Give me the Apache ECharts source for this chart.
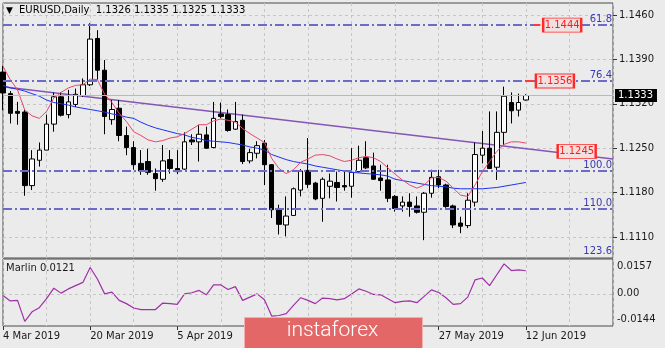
<!DOCTYPE html>
<html><head><meta charset="utf-8">
<script src="https://cdn.jsdelivr.net/npm/echarts@6/dist/echarts.min.js"></script>
<style>html,body{margin:0;padding:0;background:#ebebeb;}#c{width:665px;height:348px;}</style>
</head><body><div id="c"></div>
<script>
// ---- data ----
const dates = [
 '4 Mar 2019','5 Mar 2019','6 Mar 2019','7 Mar 2019','8 Mar 2019','11 Mar 2019','12 Mar 2019','13 Mar 2019','14 Mar 2019','15 Mar 2019',
 '18 Mar 2019','19 Mar 2019','20 Mar 2019','21 Mar 2019','22 Mar 2019','25 Mar 2019','26 Mar 2019','27 Mar 2019','28 Mar 2019','29 Mar 2019',
 '1 Apr 2019','2 Apr 2019','3 Apr 2019','4 Apr 2019','5 Apr 2019','8 Apr 2019','9 Apr 2019','10 Apr 2019','11 Apr 2019','12 Apr 2019',
 '15 Apr 2019','16 Apr 2019','17 Apr 2019','18 Apr 2019','19 Apr 2019','22 Apr 2019','23 Apr 2019','24 Apr 2019','25 Apr 2019','26 Apr 2019',
 '29 Apr 2019','30 Apr 2019','1 May 2019','2 May 2019','3 May 2019','6 May 2019','7 May 2019','8 May 2019','9 May 2019','10 May 2019',
 '13 May 2019','14 May 2019','15 May 2019','16 May 2019','17 May 2019','20 May 2019','21 May 2019','22 May 2019','23 May 2019','24 May 2019',
 '27 May 2019','28 May 2019','29 May 2019','30 May 2019','31 May 2019','3 Jun 2019','4 Jun 2019','5 Jun 2019','6 Jun 2019','7 Jun 2019',
 '10 Jun 2019','11 Jun 2019','12 Jun 2019',
 '13 Jun 2019','14 Jun 2019','17 Jun 2019','18 Jun 2019','19 Jun 2019','20 Jun 2019','21 Jun 2019','24 Jun 2019','25 Jun 2019','26 Jun 2019',
 '27 Jun 2019','28 Jun 2019'
];
const opens = [1.1370,1.1336,1.1308,1.1307,1.1191,1.1231,1.1247,1.1288,1.1331,1.1303,
 1.1319,1.1333,1.1350,1.1423,1.1373,1.1295,1.1313,1.1270,1.1251,1.1226,
 1.1229,1.1210,1.1201,1.1232,1.1218,1.1217,1.1263,1.1260,1.1271,1.1251,
 1.1304,1.1303,1.1280,1.1294,1.1230,1.1242,1.1258,1.1224,1.1153,1.1129,
 1.1144,1.1184,1.1215,1.1195,1.1171,1.1190,1.1196,1.1191,1.1190,1.1213,
 1.1235,1.1222,1.1203,1.1200,1.1174,1.1159,1.1165,1.1159,1.1149,1.1179,
 1.1205,1.1192,1.1159,1.1132,1.1128,1.1165,1.1239,1.1250,1.1220,1.1275,
 1.1322,1.1310,1.1326];
const highs = [1.1380,1.1340,1.1323,1.1310,1.1247,1.1259,1.1303,1.1338,1.1338,1.1342,
 1.1344,1.1360,1.1447,1.1436,1.1389,1.1326,1.1326,1.1284,1.1261,1.1247,
 1.1249,1.1218,1.1255,1.1247,1.1247,1.1275,1.1272,1.1287,1.1284,1.1323,
 1.1322,1.1311,1.1323,1.1303,1.1249,1.1261,1.1263,1.1225,1.1161,1.1174,
 1.1188,1.1217,1.1266,1.1197,1.1204,1.1210,1.1213,1.1213,1.1250,1.1254,
 1.1261,1.1243,1.1224,1.1224,1.1176,1.1174,1.1179,1.1174,1.1181,1.1216,
 1.1216,1.1194,1.1161,1.1142,1.1179,1.1259,1.1277,1.1308,1.1308,1.1347,
 1.1338,1.1336,1.1335];
const lows = [1.1310,1.1289,1.1287,1.1175,1.1184,1.1221,1.1247,1.1276,1.1300,1.1297,
 1.1315,1.1331,1.1348,1.1358,1.1272,1.1287,1.1261,1.1239,1.1216,1.1208,
 1.1208,1.1183,1.1197,1.1210,1.1209,1.1216,1.1255,1.1229,1.1249,1.1250,
 1.1297,1.1276,1.1279,1.1225,1.1226,1.1234,1.1192,1.1140,1.1114,1.1111,
 1.1144,1.1174,1.1187,1.1168,1.1134,1.1171,1.1166,1.1183,1.1172,1.1212,
 1.1217,1.1200,1.1183,1.1165,1.1150,1.1150,1.1142,1.1147,1.1105,1.1172,
 1.1187,1.1156,1.1124,1.1116,1.1124,1.1158,1.1226,1.1218,1.1200,1.1255,
 1.1289,1.1300,1.1325];
const closes = [1.1337,1.1305,1.1305,1.1191,1.1233,1.1247,1.1288,1.1331,1.1302,1.1323,
 1.1335,1.1350,1.1422,1.1373,1.1300,1.1311,1.1270,1.1251,1.1224,1.1214,
 1.1212,1.1202,1.1230,1.1218,1.1213,1.1260,1.1260,1.1272,1.1250,1.1297,
 1.1300,1.1278,1.1292,1.1229,1.1243,1.1254,1.1224,1.1153,1.1130,1.1143,
 1.1186,1.1214,1.1193,1.1170,1.1201,1.1198,1.1188,1.1189,1.1212,1.1231,
 1.1219,1.1201,1.1199,1.1171,1.1155,1.1165,1.1158,1.1149,1.1179,1.1204,
 1.1192,1.1158,1.1129,1.1127,1.1168,1.1240,1.1250,1.1218,1.1275,1.1332,
 1.1309,1.1322,1.1333];
const maFast = [1.1379,1.1358,1.1342,1.1310,1.1301,1.1297,1.1308,1.1329,1.1338,1.1345,
 1.1349,1.1350,1.1359,1.1358,1.1335,1.1322,1.1305,1.1292,1.1276,1.1270,
 1.1263,1.1260,1.1262,1.1266,1.1268,1.1273,1.1280,1.1287,1.1287,1.1293,
 1.1296,1.1294,1.1291,1.1281,1.1273,1.1266,1.1259,1.1234,1.1218,1.1210,
 1.1216,1.1228,1.1233,1.1239,1.1240,1.1238,1.1233,1.1229,1.1231,1.1235,
 1.1237,1.1235,1.1229,1.1219,1.1209,1.1200,1.1192,1.1187,1.1192,1.1203,
 1.1204,1.1198,1.1187,1.1176,1.1174,1.1192,1.1213,1.1229,1.1245,1.1256,
 1.1260,1.1260,1.1258];
const maSlow = [1.1349,1.1345,1.1343,1.1340,1.1336,1.1332,1.1326,1.1322,1.1320,1.1318,
 1.1315,1.1313,1.1311,1.1309,1.1307,1.1304,1.1302,1.1299,1.1297,1.1291,
 1.1286,1.1282,1.1279,1.1276,1.1273,1.1271,1.1267,1.1265,1.1262,1.1261,
 1.1260,1.1259,1.1257,1.1255,1.1252,1.1250,1.1247,1.1240,1.1236,1.1232,
 1.1229,1.1227,1.1225,1.1222,1.1220,1.1218,1.1216,1.1214,1.1212,1.1211,
 1.1210,1.1209,1.1208,1.1206,1.1201,1.1199,1.1197,1.1195,1.1193,1.1191,
 1.1190,1.1189,1.1187,1.1186,1.1186,1.1186,1.1186,1.1187,1.1188,1.1190,
 1.1192,1.1194,1.1196];
const marlin = [-0.0008,-0.0037,-0.0034,-0.0144,-0.0094,-0.0072,-0.0025,0.0030,0.0004,0.0026,
 0.0043,0.0060,0.0138,0.0078,0.0000,0.0009,-0.0034,-0.0051,-0.0074,-0.0082,
 -0.0082,-0.0082,-0.0048,-0.0051,-0.0055,0.0000,0.0006,0.0018,-0.0005,0.0047,
 0.0047,0.0023,0.0038,-0.0034,-0.0017,0.0000,-0.0031,-0.0116,-0.0113,-0.0103,
 -0.0060,-0.0020,-0.0034,-0.0051,-0.0022,-0.0025,-0.0031,-0.0025,0.0000,0.0026,
 0.0014,-0.0003,-0.0005,-0.0025,-0.0046,-0.0039,-0.0037,-0.0046,-0.0013,0.0021,
 0.0007,-0.0020,-0.0055,-0.0051,-0.0017,0.0073,0.0083,0.0043,0.0100,0.0157,
 0.0122,0.0126,0.0121];
const trendStart = 1.1347, trendEnd = 1.1233;
const fibNames = ['61.8','76.4','100.0','110.0','123.6'];
const fibPrices = [1.1444,1.1356,1.1214,1.1154,1.1072];
const priceTags = [1.1444,1.1356,1.1245];
const lastPrice = 1.1333;
const marlinTicks = [0.0157,0,-0.0144];
const title = 'EURUSD,Daily  1.1326 1.1335 1.1325 1.1333';

// ---- layout ----
const F = 'DejaVu Sans';
const yMin = 1.10769, yMax = 1.14789;
const lastIdx = opens.length - 1;
const labelShow = (i) => i % 12 === 0 && i <= lastIdx;
const gridLine = {show:true, interval:5, lineStyle:{color:'#c6c6c6', type:[3,3], width:1}};
const fibColor = '#6c6cc8';
const redSeg = {lineStyle:{color:'#ff3a3a', type:'solid', width:2}, label:{show:false}};
const hiddenLine = {color:'rgba(0,0,0,0)', width:0};

const candles = opens.map((o,i)=>[o, closes[i], lows[i], highs[i]]);

const chart = echarts.init(document.getElementById('c'));
chart.setOption({
  animation:false,
  backgroundColor:'#ebebeb',
  textStyle:{fontFamily:F},
  grid:[
    {left:3, right:52, top:3, height:255, show:true, borderColor:'#4a4a4a', borderWidth:1},
    {left:3, right:52, top:15, height:222, show:false},
    {left:3, right:52, top:259, height:67, show:true, borderColor:'#4a4a4a', borderWidth:1}
  ],
  xAxis:[
    {gridIndex:0, type:'category', data:dates, boundaryGap:false, axisLine:{show:false, onZero:false}, axisTick:{show:false}, axisLabel:{show:false}, splitLine:gridLine},
    {gridIndex:1, type:'category', data:dates, boundaryGap:false, show:false},
    {gridIndex:2, type:'category', position:'bottom', data:dates, boundaryGap:false, axisLine:{show:false, onZero:false},
      axisTick:{show:true, interval:labelShow, length:4, lineStyle:{color:'#333'}},
      axisLabel:{interval:labelShow, align:'left', margin:5, color:'#1a1a1a', fontSize:10, fontFamily:F},
      splitLine:gridLine}
  ],
  yAxis:[
    {gridIndex:0, type:'value', min:yMin, max:yMax, show:false},
    {gridIndex:1, type:'value', position:'right', min:1.1110, max:1.1460, interval:0.007,
      axisLine:{show:false}, axisTick:{show:true, length:4, lineStyle:{color:'#333'}},
      axisLabel:{color:'#1a1a1a', fontSize:10, fontFamily:F, margin:6, formatter:v=>v.toFixed(4)},
      splitLine:{show:true, lineStyle:{color:'#c6c6c6', type:[3,3], width:1}}},
    {gridIndex:2, type:'value', min:-0.0168, max:0.01825, show:false}
  ],
  series:[
    {type:'line', xAxisIndex:0, yAxisIndex:0, data:[[0,trendStart],[dates.length-1,trendEnd]],
      symbol:'none', lineStyle:{color:'#8456b6', width:1.5}, z:2,
      markLine:{symbol:['none','none'], silent:true, animation:false, precision:6,
        data:[
          ...fibPrices.map((p,k)=>({yAxis:Math.max(p, yMin+0.00002),
            lineStyle: p < yMin ? hiddenLine : {color:fibColor, type:[9,3,2,3], width:2},
            label:{show:true, position:'insideEndTop', formatter:fibNames[k], color:'#3a3ab0', fontSize:10, fontFamily:F, distance:[1,1]}})),
          {yAxis:lastPrice, lineStyle:{color:'#b9b9b9', type:'solid', width:1},
            label:{show:true, position:'end', formatter:lastPrice.toFixed(4), color:'#fff', backgroundColor:'#000', padding:[2,4,1,3], fontSize:10, fontFamily:F, distance:2}},
          [Object.assign({coord:[lastIdx+1, priceTags[0]]}, redSeg), {coord:[lastIdx+2, priceTags[0]]}],
          [Object.assign({coord:[lastIdx, priceTags[1]]}, redSeg), {coord:[lastIdx+1, priceTags[1]]}]
        ]
      },
      markPoint:{symbol:'rect', symbolSize:[38,14], silent:true, animation:false,
        itemStyle:{color:'#f1e0e0', borderColor:'#ff2a2a', borderWidth:1.5},
        label:{show:true, position:'inside', color:'#ff1a1a', fontSize:10, fontFamily:F, formatter:p=>p.value.toFixed(4)},
        data:[
          {coord:[lastIdx+5, priceTags[0]], value:priceTags[0]},
          {coord:[lastIdx+4, priceTags[1]], value:priceTags[1]},
          {coord:[lastIdx+7, priceTags[2]], value:priceTags[2]}
        ]}
    },
    {type:'candlestick', xAxisIndex:0, yAxisIndex:0, data:candles, barWidth:5, z:3,
      itemStyle:{color:'#ffffff', color0:'#000000', borderColor:'#000000', borderColor0:'#000000', borderWidth:1}},
    {type:'line', xAxisIndex:0, yAxisIndex:0, data:maSlow, symbol:'none', lineStyle:{color:'#1e32f0', width:1}, z:4},
    {type:'line', xAxisIndex:0, yAxisIndex:0, data:maFast, symbol:'none', lineStyle:{color:'#e8466a', width:1}, z:4},
    {type:'line', xAxisIndex:2, yAxisIndex:2, data:marlin, symbol:'none', lineStyle:{color:'#a030a8', width:1.2},
      markLine:{symbol:['none','none'], silent:true, animation:false, precision:6,
        data:marlinTicks.map(t=>({yAxis:t,
          lineStyle: t===0 ? {color:'#c6c6c6', type:[3,3], width:1} : hiddenLine,
          label:{show:true, position:'end', distance:4, color:'#1a1a1a', fontSize:10, fontFamily:F,
            formatter: t===0 ? '0.00' : t.toFixed(4), offset:[0, t>0 ? 3 : (t<0 ? -2 : 0)]}}))}}
  ],
  graphic:[
    {type:'text', left:6, top:6, z:10, style:{text:'\u25BC', font:'9px "DejaVu Sans"', fill:'#000'}},
    {type:'text', left:19, top:5, z:10, style:{text:title, font:'10px "DejaVu Sans"', fill:'#000'}},
    {type:'text', left:6, top:263, z:10, style:{text:'Marlin 0.0121', font:'10px "DejaVu Sans"', fill:'#1a1a1a'}},
    {type:'rect', left:244, top:317, z:100, zlevel:1, shape:{x:0, y:0, width:178, height:33}, style:{fill:'#e36767', stroke:'#f3b0b0', lineWidth:1}},
    {type:'text', left:'center', top:320, z:101, zlevel:1, style:{text:'instaforex', font:'300 21px Roboto', fill:'#ffffff'}}
  ]
});
</script></body></html>
